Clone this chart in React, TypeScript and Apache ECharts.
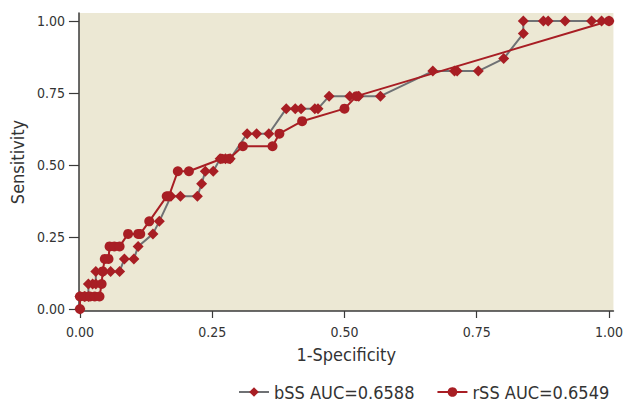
import React, { useEffect, useRef } from "react";
import * as echarts from "echarts";

const N_POS = 23;
const tickValues = [0, 0.25, 0.5, 0.75, 1];

// [1-specificity, number of true positives (of 23)]
const bSSPoints: [number, number][] = [
  [0, 0], [0, 1], [0.009, 1], [0.016, 1], [0.016, 2], [0.024, 2], [0.03, 2], [0.03, 3],
  [0.044, 3], [0.058, 3], [0.075, 3], [0.084, 4], [0.102, 4], [0.11, 5], [0.138, 6],
  [0.15, 7], [0.172, 9], [0.19, 9], [0.222, 9], [0.23, 10], [0.237, 11], [0.252, 11],
  [0.265, 12], [0.275, 12], [0.284, 12], [0.316, 14], [0.334, 14], [0.357, 14],
  [0.39, 16], [0.407, 16], [0.418, 16], [0.444, 16], [0.45, 16], [0.471, 17], [0.51, 17],
  [0.527, 17], [0.568, 17], [0.667, 19], [0.708, 19], [0.713, 19], [0.753, 19],
  [0.801, 20], [0.838, 22], [0.838, 23], [0.876, 23], [0.885, 23], [0.917, 23],
  [0.967, 23], [0.986, 23], [1, 23],
];

const rSSPoints: [number, number][] = [
  [0, 0], [0, 1], [0.009, 1], [0.019, 1], [0.028, 1], [0.037, 1], [0.041, 2], [0.043, 3],
  [0.047, 4], [0.054, 4], [0.056, 5], [0.065, 5], [0.075, 5], [0.091, 6], [0.11, 6],
  [0.114, 6], [0.131, 7], [0.164, 9], [0.168, 9], [0.185, 11], [0.206, 11], [0.268, 12],
  [0.282, 12], [0.308, 13], [0.364, 13], [0.377, 14], [0.42, 15], [0.5, 16], [0.523, 17],
  [1, 23],
];

const seriesNames = ["bSS AUC=0.6588", "rSS AUC=0.6549"];

const RED = "#A81E24";
const GRAY = "#6F7174";
const FONT = "'Liberation Sans Narrow', 'DejaVu Sans Condensed', 'Roboto Condensed', sans-serif";

export default function App() {
  const ref = useRef<HTMLDivElement>(null);
  useEffect(() => {
    if (!ref.current) return;
    const chart = echarts.init(ref.current, undefined, { renderer: "svg" });
    const toData = (pts: [number, number][]) => pts.map(([x, k]) => [x, k / N_POS]);
    chart.setOption({
      animation: false,
      grid: {
        left: 77,
        right: 8,
        top: 13,
        bottom: 90,
        show: true,
        backgroundColor: "#ECE8D4",
        borderWidth: 0,
      },
      xAxis: {
        type: "value",
        min: -0.0019,
        max: 1.0084,
        name: "1-Specificity",
        nameLocation: "middle",
        nameGap: 34,
        nameTextStyle: { fontFamily: FONT, fontSize: 18, color: "#333" },
        axisLine: { show: true, onZero: false, lineStyle: { color: "#3a3a3a", width: 1.5 } },
        axisTick: { show: true, length: 7, customValues: tickValues, lineStyle: { color: "#3a3a3a", width: 1.2 } },
        axisLabel: {
          customValues: tickValues,
          formatter: (v: number) => v.toFixed(2),
          fontFamily: FONT,
          fontSize: 14,
          color: "#333",
          margin: 14,
        },
        splitLine: { show: false },
      },
      yAxis: {
        type: "value",
        min: -0.0069,
        max: 1.0278,
        name: "Sensitivity",
        nameLocation: "middle",
        nameGap: 52,
        nameRotate: 90,
        nameTextStyle: { fontFamily: FONT, fontSize: 18, color: "#333" },
        axisLine: { show: true, onZero: false, lineStyle: { color: "#3a3a3a", width: 1.5 } },
        axisTick: { show: true, length: 10, customValues: tickValues, lineStyle: { color: "#3a3a3a", width: 1.2 } },
        axisLabel: {
          customValues: tickValues,
          formatter: (v: number) => v.toFixed(2),
          fontFamily: FONT,
          fontSize: 14,
          color: "#333",
          margin: 14,
        },
        splitLine: { show: false },
      },
      legend: {
        left: 238,
        top: 383,
        padding: 0,
        itemGap: 22,
        itemWidth: 30,
        itemHeight: 12,
        textStyle: { fontFamily: FONT, fontSize: 18, lineHeight: 18, color: "#333" },
        data: seriesNames,
      },
      series: [
        {
          name: seriesNames[0],
          type: "line",
          data: toData(bSSPoints),
          symbol: "diamond",
          symbolSize: 11,
          itemStyle: { color: RED },
          lineStyle: { color: GRAY, width: 2 },
          z: 2,
        },
        {
          name: seriesNames[1],
          type: "line",
          data: toData(rSSPoints),
          symbol: "circle",
          symbolSize: 10,
          itemStyle: { color: RED },
          lineStyle: { color: RED, width: 2 },
          z: 3,
        },
      ],
    });
    return () => chart.dispose();
  }, []);
  return <div ref={ref} style={{ width: 626, height: 401, position: "absolute", left: 0, top: 0 }} />;
}
